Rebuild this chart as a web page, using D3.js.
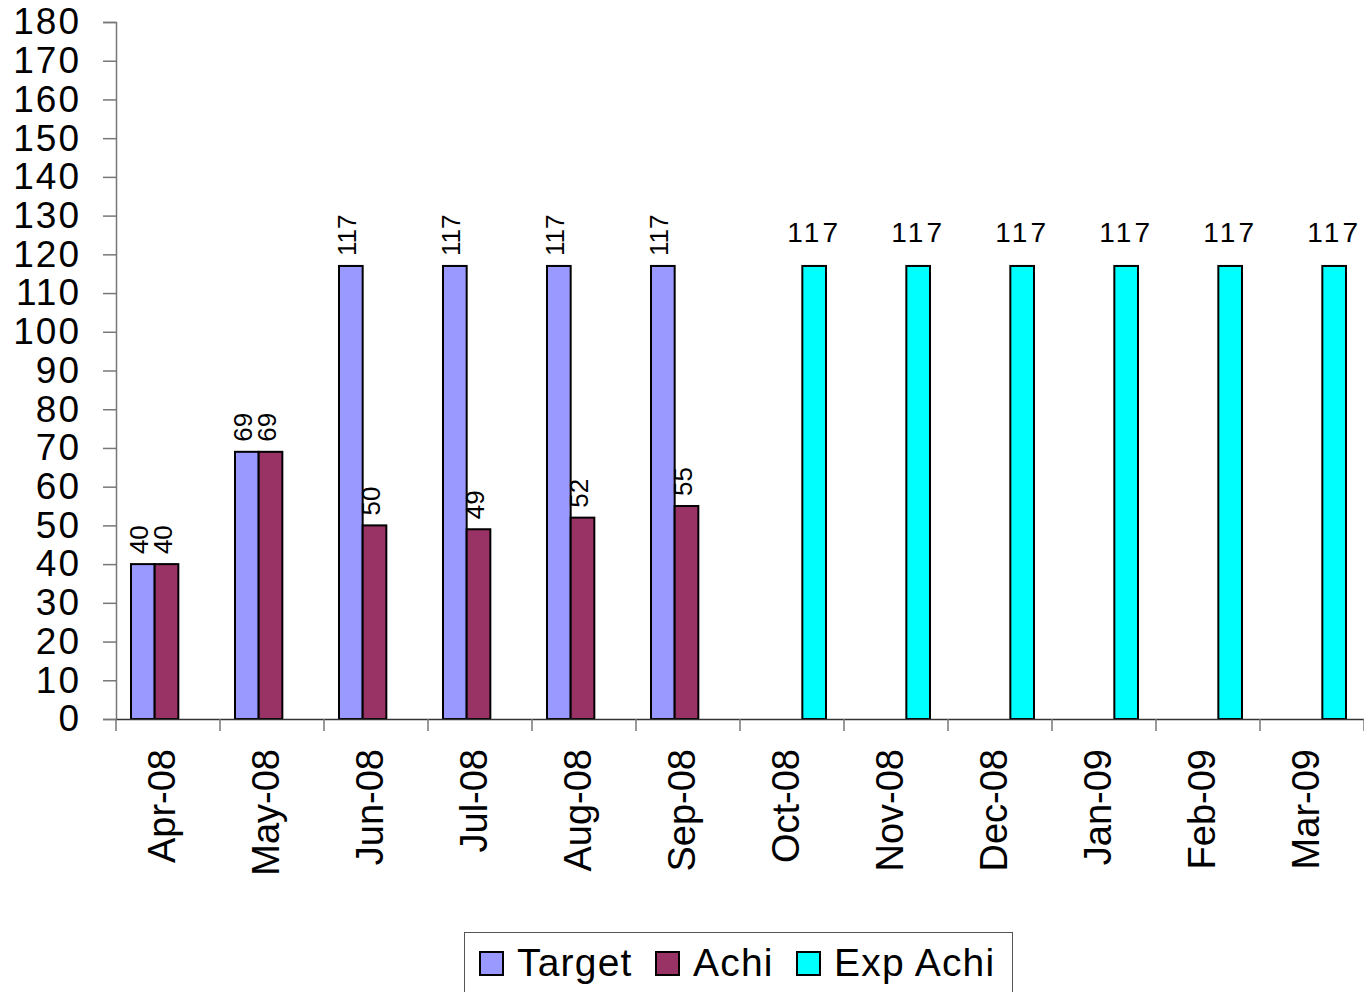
<!DOCTYPE html>
<html>
<head>
<meta charset="utf-8">
<script src="https://cdn.jsdelivr.net/npm/d3@7"></script>
<style>
  body { margin: 0; background: #fff; }
  text { font-family: "Liberation Sans", Arial, sans-serif; fill: #000; }
</style>
</head>
<body>
<svg id="chart"></svg>
<script>
const months = ['Apr-08', 'May-08', 'Jun-08', 'Jul-08', 'Aug-08', 'Sep-08',
                'Oct-08', 'Nov-08', 'Dec-08', 'Jan-09', 'Feb-09', 'Mar-09'];
const target  = [40, 69, 117, 117, 117, 117, null, null, null, null, null, null];
const achi    = [40, 69, 50, 49, 52, 55, null, null, null, null, null, null];
const expAchi = [null, null, null, null, null, null, 117, 117, 117, 117, 117, 117];
const seriesNames = ['Target', 'Achi', 'Exp Achi'];
const yTicks = d3.range(0, 181, 10);

const colors = { 'Target': '#9999ff', 'Achi': '#993366', 'Exp Achi': '#00ffff' };
const values = { 'Target': target, 'Achi': achi, 'Exp Achi': expAchi };

const width = 1364, height = 992;
const plot = { left: 116, right: 1364, top: 22, bottom: 719 };

const svg = d3.select('#chart').attr('width', width).attr('height', height);

const x0 = d3.scaleBand().domain(months).range([plot.left, plot.right]).padding(0);
const x1 = d3.scaleBand().domain(seriesNames).range([15, 86]).padding(0);
const y = d3.scaleLinear().domain([0, 180]).range([plot.bottom, plot.top]);

// y axis
const yAxis = svg.append('g')
  .attr('transform', `translate(${plot.left},0)`)
  .call(d3.axisLeft(y).tickValues(yTicks).tickSize(13).tickPadding(22).tickFormat(d3.format('d')));
yAxis.select('.domain').attr('stroke', '#777').attr('stroke-width', 1.5);
yAxis.selectAll('.tick line').attr('stroke', '#777').attr('stroke-width', 1.5);
yAxis.selectAll('.tick text')
  .attr('font-size', 37)
  .attr('letter-spacing', 2)
  .style('font-family', '"Liberation Sans", Arial, sans-serif')
  .attr('fill', '#000');

// bars
const rows = months.map((m, i) => ({ m, i }));
seriesNames.forEach(s => {
  const data = rows.filter(r => values[s][r.i] != null);
  svg.append('g').selectAll('rect')
    .data(data)
    .join('rect')
    .attr('x', r => x0(r.m) + x1(s))
    .attr('y', r => y(values[s][r.i]))
    .attr('width', x1.bandwidth())
    .attr('height', r => y(0) - y(values[s][r.i]))
    .attr('fill', colors[s])
    .attr('stroke', '#000')
    .attr('stroke-width', 2);

  const labels = svg.append('g').selectAll('text')
    .data(data)
    .join('text')
    .text(r => values[s][r.i]);

  if (s === 'Exp Achi') {
    labels
      .attr('x', r => x0(r.m) + x1(s) + x1.bandwidth() / 2)
      .attr('y', r => y(values[s][r.i]) - 24)
      .attr('text-anchor', 'middle')
      .attr('font-size', 28)
      .attr('letter-spacing', 3);
  } else {
    labels
      .attr('transform', r => {
        const lx = x0(r.m) + x1(s) + x1.bandwidth() / 2 + 5;
        const ly = y(values[s][r.i]) - 10;
        return `translate(${lx},${ly}) rotate(-90)`;
      })
      .attr('text-anchor', 'start')
      .attr('font-size', 26);
  }
});

// x axis
const xAxis = svg.append('g')
  .attr('transform', `translate(0,${plot.bottom})`)
  .call(d3.axisBottom(x0).tickSize(0).tickFormat(''));
xAxis.select('.domain').attr('stroke', '#333').attr('stroke-width', 1.5);
xAxis.selectAll('.tick').remove();

// category separators on the x axis
svg.append('g').selectAll('line')
  .data(months.concat(['_end']))
  .join('line')
  .attr('x1', (d, i) => plot.left + i * x0.bandwidth())
  .attr('x2', (d, i) => plot.left + i * x0.bandwidth())
  .attr('y1', plot.bottom)
  .attr('y2', plot.bottom + 12)
  .attr('stroke', '#777')
  .attr('stroke-width', 1.5);

svg.append('g').selectAll('text')
  .data(months)
  .join('text')
  .attr('transform', d => `translate(${x0(d) + x0.bandwidth() / 2 + 7},749) rotate(-90)`)
  .attr('text-anchor', 'end')
  .attr('font-size', 38)
  .text(d => d);

// legend
const legend = svg.append('g');
legend.append('rect')
  .attr('x', 464.5).attr('y', 932.5)
  .attr('width', 548).attr('height', 80)
  .attr('fill', '#fff')
  .attr('stroke', '#555')
  .attr('stroke-width', 1);

const legendX = [480, 656, 797];
seriesNames.forEach((s, i) => {
  legend.append('rect')
    .attr('x', legendX[i]).attr('y', 952)
    .attr('width', 23).attr('height', 23)
    .attr('fill', colors[s])
    .attr('stroke', '#000')
    .attr('stroke-width', 2);
  legend.append('text')
    .attr('x', legendX[i] + 37)
    .attr('y', 976)
    .attr('font-size', 39)
    .attr('letter-spacing', 1.2)
    .text(s);
});
</script>
</body>
</html>
